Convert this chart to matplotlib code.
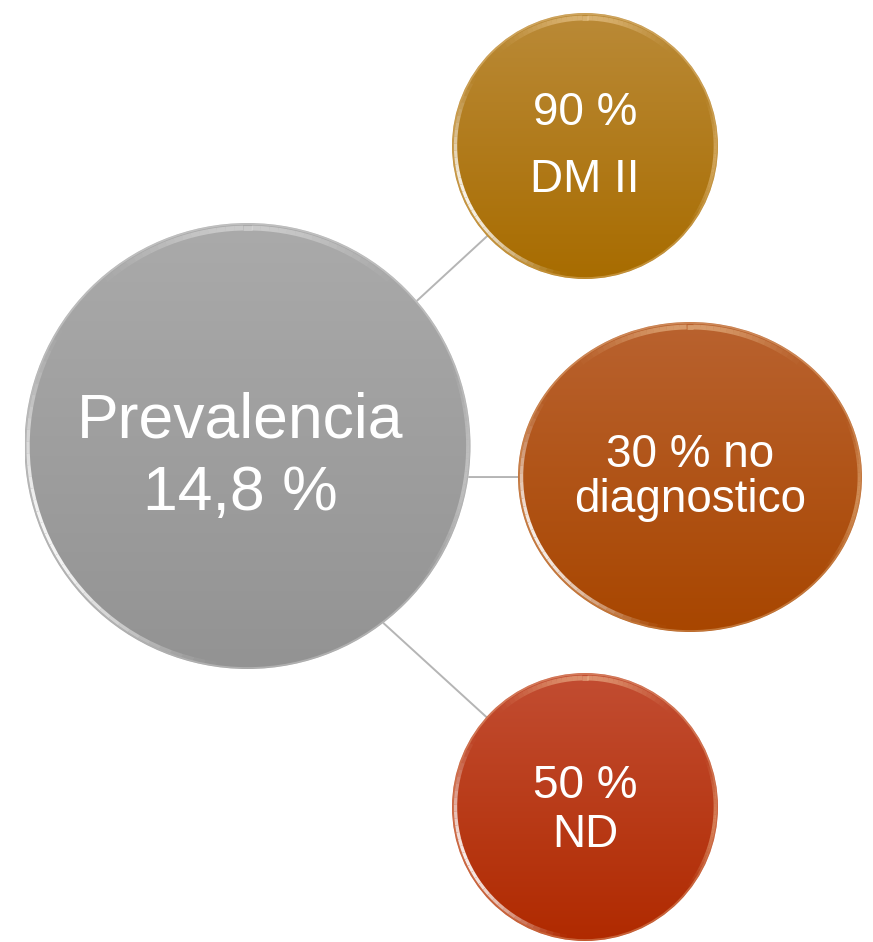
import matplotlib
matplotlib.use("Agg")
import matplotlib.pyplot as plt
import numpy as np
from matplotlib.patches import Ellipse
from matplotlib.collections import LineCollection

# nodes of the diagram: main bubble + three satellites
main_lines = ["Prevalencia", "14,8 %"]
sat_lines = [["90 %", "DM II"],
             ["30 % no", "diagnostico"],
             ["50 %", "ND"]]

# layout in pixels (image coords, y down)
main_center = (247.5, 446)
main_radius = 223
main_top, main_bottom = "#aaaaaa", "#939393"
main_baselines = [-9, 64]

sat_centers = [(585, 146), (690, 477), (585, 807)]
sat_radii = [(133, 133), (172, 155), (133, 134)]
sat_top = ["#ba8a37", "#b9622f", "#c24d32"]
sat_bottom = ["#a86c00", "#a84600", "#b02a00"]
sat_baselines = [[-21, 46], [-10, 35], [-9, 40]]
rim_angles = [-40.6, 8.0, 52.5]  # where the connector leaves the main bubble

W, H = 873, 942
fig = plt.figure(figsize=(W / 100, H / 100), dpi=100)
ax = fig.add_axes([0, 0, 1, 1])
ax.set_xlim(0, W)
ax.set_ylim(H, 0)
ax.axis("off")

font = ["Liberation Sans", "DejaVu Sans"]


def glow_arc(cx, cy, rx, ry, a0, a1, color, lw, peak):
    # arc whose opacity fades out towards both ends
    th = np.radians(np.linspace(a0, a1, 40))
    x = cx + rx * np.cos(th)
    y = cy + ry * np.sin(th)
    pts = np.column_stack([x, y]).reshape(-1, 1, 2)
    segs = np.concatenate([pts[:-1], pts[1:]], axis=1)
    s = np.linspace(0, 1, len(segs))
    alpha = peak * np.sin(np.pi * s) ** 1.5
    rgb = matplotlib.colors.to_rgb(color)
    cols = [(rgb[0], rgb[1], rgb[2], a) for a in alpha]
    ax.add_collection(LineCollection(segs, colors=cols, linewidths=lw,
                                     capstyle="butt", antialiased=True, zorder=3))


def bubble(cx, cy, rx, ry, c_top, c_bot, rim):
    top = np.array(matplotlib.colors.to_rgb(c_top))
    bot = np.array(matplotlib.colors.to_rgb(c_bot))
    t = np.linspace(0, 1, 200)[:, None, None]
    grad = top * (1 - t) + bot * t
    im = ax.imshow(grad, extent=(cx - rx, cx + rx, cy + ry, cy - ry),
                   aspect="auto", interpolation="bilinear", zorder=2)
    clip = Ellipse((cx, cy), 2 * rx, 2 * ry, facecolor="none", edgecolor="none")
    ax.add_patch(clip)
    im.set_clip_path(clip)
    # glossy rim: faint all round, brighter on the lower left and top
    ax.add_patch(Ellipse((cx, cy), 2 * rx - 2, 2 * ry - 2, facecolor="none",
                         edgecolor=rim, lw=1.2, alpha=0.3, zorder=3))
    glow_arc(cx, cy, rx - 3.5, ry - 3.5, 95, 215, "white", 2.4, 0.9)
    glow_arc(cx, cy, rx - 5, ry - 5, 225, 315, rim, 3.5, 0.45)
    glow_arc(cx, cy, rx - 3, ry - 3, -25, 40, rim, 2.0, 0.4)


# connectors (behind the bubbles)
for (sx, sy), ang in zip(sat_centers, rim_angles):
    a = np.radians(ang)
    x0 = main_center[0] + main_radius * np.cos(a)
    y0 = main_center[1] + main_radius * np.sin(a)
    ax.plot([x0, sx], [y0, sy], color="#b5b5b5", lw=1.4, zorder=1,
            solid_capstyle="butt")

bubble(main_center[0], main_center[1], main_radius, main_radius,
       main_top, main_bottom, "#f2f2f2")
for line, dy in zip(main_lines, main_baselines):
    ax.text(main_center[0] - 7, main_center[1] + dy, line, color="white",
            fontsize=45, family=font, ha="center", va="baseline", zorder=5)

for (cx, cy), (rx, ry), ct, cb, lines, bl in zip(sat_centers, sat_radii, sat_top,
                                                  sat_bottom, sat_lines, sat_baselines):
    bubble(cx, cy, rx, ry, ct, cb, "#ffe2b5")
    for line, dy in zip(lines, bl):
        ax.text(cx, cy + dy, line, color="white", fontsize=33, family=font,
                ha="center", va="baseline", zorder=5)

fig.savefig("out.png", dpi=100)
